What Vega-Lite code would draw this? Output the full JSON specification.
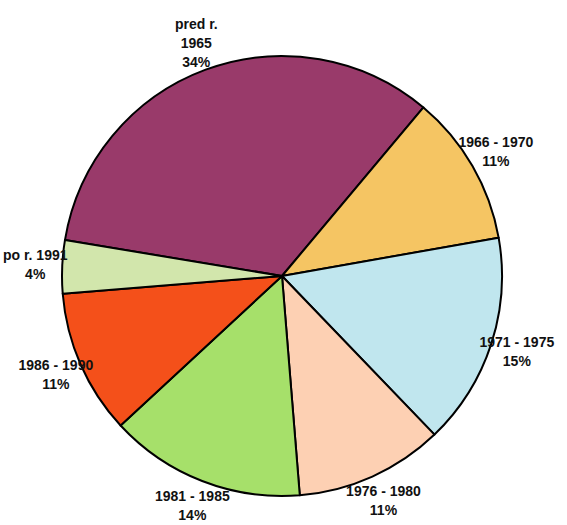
{
  "$schema": "https://vega.github.io/schema/vega-lite/v6.json",
  "width": 564,
  "height": 498,
  "autosize": "none",
  "padding": {"left": 0, "top": 27, "right": 3, "bottom": 0},
  "background": "white",
  "data": {
    "values": [
      {"n": 1, "period": "pred r. 1965", "share": 33.5, "label": "pred r.\n1965\n34%"},
      {"n": 2, "period": "1966 - 1970", "share": 11.1, "label": "1966 - 1970\n11%"},
      {"n": 3, "period": "1971 - 1975", "share": 15.6, "label": "1971 - 1975\n15%"},
      {"n": 4, "period": "1976 - 1980", "share": 10.9, "label": "1976 - 1980\n11%"},
      {"n": 5, "period": "1981 - 1985", "share": 14.4, "label": "1981 - 1985\n14%"},
      {"n": 6, "period": "1986 - 1990", "share": 10.6, "label": "1986 - 1990\n11%"},
      {"n": 7, "period": "po r. 1991", "share": 3.9, "label": "po r. 1991\n4%"}
    ]
  },
  "encoding": {
    "theta": {
      "field": "share",
      "type": "quantitative",
      "stack": true,
      "scale": {"range": [-1.4067, 4.8765]}
    },
    "order": {"field": "n", "type": "quantitative"},
    "color": {
      "field": "period",
      "type": "nominal",
      "scale": {
        "domain": ["pred r. 1965", "1966 - 1970", "1971 - 1975", "1976 - 1980", "1981 - 1985", "1986 - 1990", "po r. 1991"],
        "range": ["#993a6a", "#f5c563", "#c0e6ee", "#fdd0b3", "#a6e06a", "#f4501a", "#d2e6ac"]
      },
      "legend": null
    }
  },
  "layer": [
    {
      "mark": {"type": "arc", "outerRadius": 220, "stroke": "black", "strokeWidth": 2, "strokeJoin": "round"}
    },
    {
      "mark": {
        "type": "text",
        "radius": 247,
        "font": "Liberation Sans",
        "fontWeight": "bold",
        "fontSize": 14,
        "lineBreak": "\n",
        "lineHeight": 19,
        "align": "center",
        "baseline": "middle",
        "dy": {"expr": "-9.5 * (length(split(datum.label, '\\n')) - 1)"}
      },
      "encoding": {
        "text": {"field": "label", "type": "nominal"},
        "color": {"value": "#111111"}
      }
    }
  ]
}
